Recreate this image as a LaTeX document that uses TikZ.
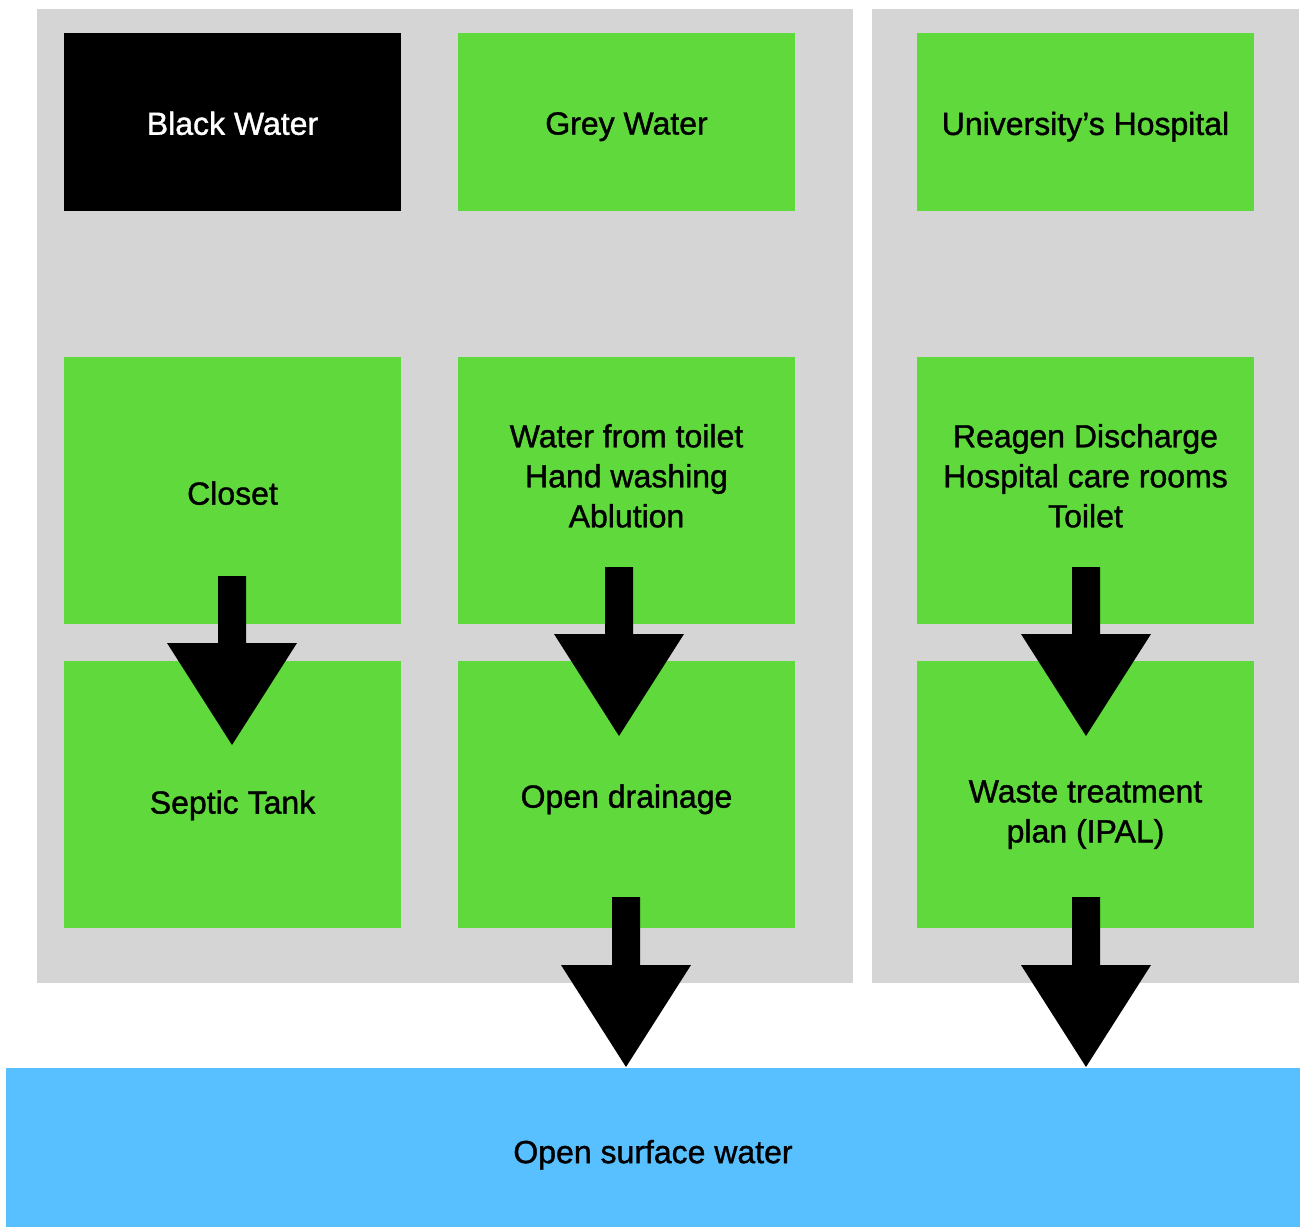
\documentclass[tikz,border=0pt]{standalone}
\usepackage{fontspec}
\setmainfont{Liberation Sans}
\newfontfamily\medfont[FakeBold=1.2]{Liberation Sans}
\usetikzlibrary{calc}
\definecolor{panelgrey}{HTML}{D5D5D5}
\definecolor{boxgreen}{HTML}{5FD93B}
\definecolor{skyblue}{HTML}{58C0FF}
\newcommand\blockarrow[2]{%
  \fill[black] ($(#1)+(-14,0)$) -- ($(#1)+(14,0)$) -- ($(#2)+(14,-102)$)
    -- ($(#2)+(65,-102)$) -- (#2) -- ($(#2)+(-65,-102)$)
    -- ($(#2)+(-14,-102)$) -- cycle;}
\begin{document}
\begin{tikzpicture}[x=0.75pt,y=-0.75pt,
  box/.style={fill=boxgreen, minimum width=252.75pt, inner sep=0pt, outer sep=0pt},
  topbox/.style={box, minimum height=133.5pt},
  tallbox/.style={box, minimum height=200.25pt},
  lbl/.style={font=\medfont\fontsize{24}{30}\selectfont, align=center, inner sep=0pt}]
\useasboundingbox[fill=white] (0,0) rectangle (1300,1227);
% panels
\fill[panelgrey] (37,9) rectangle (853,983);
\fill[panelgrey] (872,9) rectangle (1299,983);
% top row
\node[topbox, fill=black, label={[lbl, text=white, yshift=-1pt]center:Black Water}] (black) at (232.5,122) {};
\node[topbox, label={[lbl, yshift=-3.5pt]center:Grey Water}] (grey) at (626.5,122) {};
\node[topbox, label={[lbl, yshift=-3.5pt]center:University’s Hospital}] (hosp) at (1085.5,122) {};
% middle row
\node[tallbox, label={[lbl, yshift=-2pt]center:Closet}] (closet) at (232.5,490.5) {};
\node[tallbox, label={[lbl, yshift=11pt]center:{Water from toilet\\Hand washing\\Ablution}}] (sources) at (626.5,490.5) {};
\node[tallbox, label={[lbl, yshift=11pt]center:{Reagen Discharge\\Hospital care rooms\\Toilet}}] (hsources) at (1085.5,490.5) {};
% bottom row
\node[tallbox, label={[lbl, yshift=-8.5pt]center:Septic Tank}] (septic) at (232.5,794) {};
\node[tallbox, label={[lbl, yshift=-4pt]center:Open drainage}] (drain) at (626.5,794) {};
\node[tallbox, label={[lbl, yshift=-15.5pt]center:{Waste treatment\\plan (IPAL)}}] (ipal) at (1085.5,794) {};
% surface water
\node[fill=skyblue, minimum width=970.5pt, minimum height=119.25pt, inner sep=0pt,
  label={[lbl, yshift=-5.5pt]center:Open surface water}] (surface) at (653,1147.5) {};
% arrows
\coordinate (a1s) at (232,576);  \coordinate (a1e) at (232,745);
\coordinate (a2s) at (619,567);  \coordinate (a2e) at (619,736);
\coordinate (a3s) at (1086,567); \coordinate (a3e) at (1086,736);
\coordinate (a4s) at (626,897);  \coordinate (a4e) at (626,1067);
\coordinate (a5s) at (1086,897); \coordinate (a5e) at (1086,1067);
\blockarrow{a1s}{a1e}
\blockarrow{a2s}{a2e}
\blockarrow{a3s}{a3e}
\blockarrow{a4s}{a4e}
\blockarrow{a5s}{a5e}
\end{tikzpicture}
\end{document}
